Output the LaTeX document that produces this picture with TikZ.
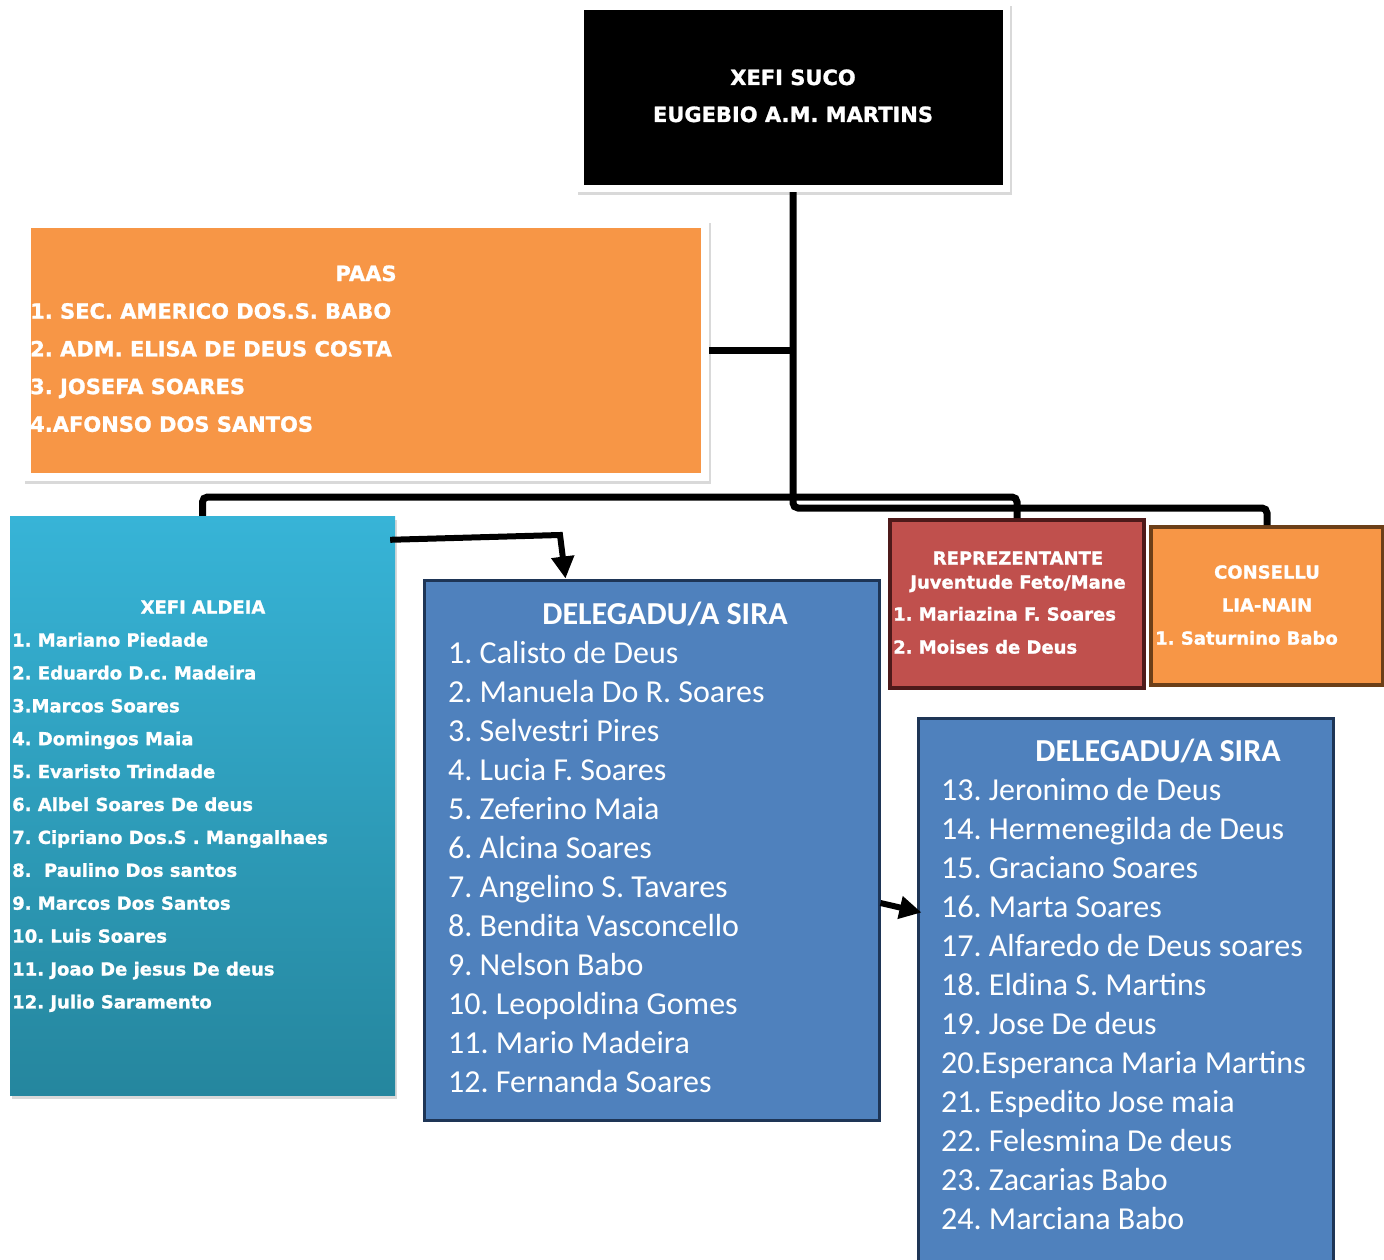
\documentclass[tikz,border=0pt]{standalone}
\usepackage{fontspec}
\setmainfont{DejaVu Sans}[BoldFeatures={FakeBold=1.2}]
\newfontfamily\calib{Carlito}
\usetikzlibrary{arrows.meta,shadows,positioning}
\frenchspacing

\definecolor{paasorange}{HTML}{F79646}
\definecolor{aldeiatop}{HTML}{37B4D7}
\definecolor{aldeiabot}{HTML}{25869E}
\definecolor{sirablue}{HTML}{4F81BD}
\definecolor{siraline}{HTML}{1E3556}
\definecolor{juvred}{HTML}{C0504D}
\definecolor{juvline}{HTML}{4E1A1A}
\definecolor{liabrown}{HTML}{6C3F18}

\tikzset{
	frame/.style={fill=white, inner sep=0pt, drop shadow={shadow xshift=2pt, shadow yshift=-3pt, opacity=0.3}},
	fillbox/.style={inner sep=0pt},
	conn/.style={line width=7pt, rounded corners=5pt},
	arr/.style={line width=6pt, -{Triangle[length=22pt,width=22pt]}},
	bigtxt/.style={text=white, inner sep=0pt, font=\bfseries\fontsize{21}{25}\selectfont},
	smalltxt/.style={text=white, inner sep=0pt, font=\bfseries\fontsize{18}{21}\selectfont},
	siratxt/.style={text=white, inner sep=0pt, font=\calib\fontsize{32}{38}\selectfont},
}

\begin{document}
\begin{tikzpicture}[x=1pt, y=-1pt]
	\useasboundingbox (0,0) rectangle (1384,1260);

	% xefi suco
	\node[frame, minimum width=434pt, minimum height=189pt] (suco) at (793,97.5) {};
	\node[fillbox, fill=black, minimum width=419pt, minimum height=175pt] (sucoin) at (suco.center) {};
	\node[bigtxt, anchor=base] (suco-t1) at (793,85) {XEFI SUCO};
	\node[bigtxt, anchor=base] (suco-t2) at (793,122) {EUGEBIO A.M. MARTINS};

	% paas
	\node[frame, minimum width=686pt, minimum height=261pt] (paas) at (366,350.5) {};
	\node[fillbox, fill=paasorange, minimum width=670pt, minimum height=245pt] (paasin) at (paas.center) {};
	\node[bigtxt, anchor=base] (paas-t) at (366,281) {PAAS};
	\foreach \t [count=\i] in {1. SEC. AMERICO DOS.S. BABO, 2. ADM. ELISA DE DEUS COSTA, 3. JOSEFA SOARES, 4.AFONSO DOS SANTOS}
		\node[bigtxt, anchor=base west] (paas-\i) at (30,{281+37.7*\i}) {\t};

	% xefi aldeia
	\node[fillbox, top color=aldeiatop, bottom color=aldeiabot, minimum width=385pt, minimum height=579pt,
		drop shadow={shadow xshift=2pt, shadow yshift=-4pt, opacity=0.3}] (aldeia) at (202.5,805.5) {};
	\node[smalltxt, anchor=base] (aldeia-t) at (203,613.6) {XEFI ALDEIA};
	\foreach \t [count=\i] in {1. Mariano Piedade, 2. Eduardo D.c. Madeira, 3.Marcos Soares, 4. Domingos Maia,
		5. Evaristo Trindade, 6. Albel Soares De deus, 7. Cipriano Dos.S . Mangalhaes, 8.~ Paulino Dos santos,
		9. Marcos Dos Santos, 10. Luis Soares, 11. Joao De jesus De deus, 12. Julio Saramento}
		\node[smalltxt, anchor=base west] (aldeia-\i) at (12,{613.6+32.9*\i}) {\t};

	% delegadu 1
	\node[fillbox, fill=sirablue, draw=siraline, line width=3pt, minimum width=455pt, minimum height=540pt] (sira1) at (651.5,850) {};
	\node[siratxt, font=\calib\bfseries\fontsize{32}{38}\selectfont, anchor=base] (sira1-t) at (665,624.3) {DELEGADU/A SIRA};
	\foreach \t [count=\i] in {1. Calisto de Deus, 2. Manuela Do R. Soares, 3. Selvestri Pires, 4. Lucia F. Soares,
		5. Zeferino Maia, 6. Alcina Soares, 7. Angelino S. Tavares, 8. Bendita Vasconcello, 9. Nelson Babo,
		10. Leopoldina Gomes, 11. Mario Madeira, 12. Fernanda Soares}
		\node[siratxt, anchor=base west] (sira1-\i) at (448,{624.3+39*\i}) {\t};

	% delegadu 2
	\node[fillbox, fill=sirablue, draw=siraline, line width=3pt, minimum width=415pt, minimum height=557pt] (sira2) at (1125.5,996.5) {};
	\node[siratxt, font=\calib\bfseries\fontsize{32}{38}\selectfont, anchor=base] (sira2-t) at (1158,761.3) {DELEGADU/A SIRA};
	\foreach \t [count=\i] in {13. Jeronimo de Deus, 14. Hermenegilda de Deus, 15. Graciano Soares, 16. Marta Soares,
		17. Alfaredo de Deus soares, 18. Eldina S. Martins, 19. Jose De deus, 20.Esperanca Maria Martins,
		21. Espedito Jose maia, 22. Felesmina De deus, 23. Zacarias Babo, 24. Marciana Babo}
		\node[siratxt, anchor=base west] (sira2-\i) at (941,{761.3+39*\i}) {\t};

	% reprezentante juventude
	\node[fillbox, fill=juvred, draw=juvline, line width=4pt, minimum width=254pt, minimum height=168pt] (juv) at (1017,604) {};
	\node[smalltxt, anchor=base] (juv-t1) at (1018,564.6) {REPREZENTANTE};
	\node[smalltxt, anchor=base] (juv-t2) at (1018,588.6) {Juventude Feto/Mane};
	\node[smalltxt, anchor=base west] (juv-1) at (893,620.6) {1. Mariazina F. Soares};
	\node[smalltxt, anchor=base west] (juv-2) at (893,653.6) {2. Moises de Deus};

	% consellu lia-nain
	\node[fillbox, fill=paasorange, draw=liabrown, line width=4pt, minimum width=232pt, minimum height=158pt] (lia) at (1267,606) {};
	\node[smalltxt, anchor=base] (lia-t1) at (1267,578.6) {CONSELLU};
	\node[smalltxt, anchor=base] (lia-t2) at (1267,611.6) {LIA-NAIN};
	\node[smalltxt, anchor=base west] (lia-1) at (1155,644.6) {1. Saturnino Babo};

	% connectors
	\coordinate (hubl) at (793,497);
	\coordinate (hub) at (793,508);
	\draw[conn] (suco.south) -- (hub) -| (lia.north);
	\draw[conn] (aldeia.north) |- (juv.north |- hubl) -- (juv.north);
	\draw[conn] (paas.east) -- (paas.east -| suco.south);
	\draw[arr] ([xshift=-5pt, yshift=-24pt]aldeia.north east) -- (560,535) -- ([xshift=-86pt]sira1.north);
	\draw[arr] ([yshift=-53pt]sira1.east) -- ([xshift=5pt, yshift=84pt]sira2.west);
\end{tikzpicture}
\end{document}
